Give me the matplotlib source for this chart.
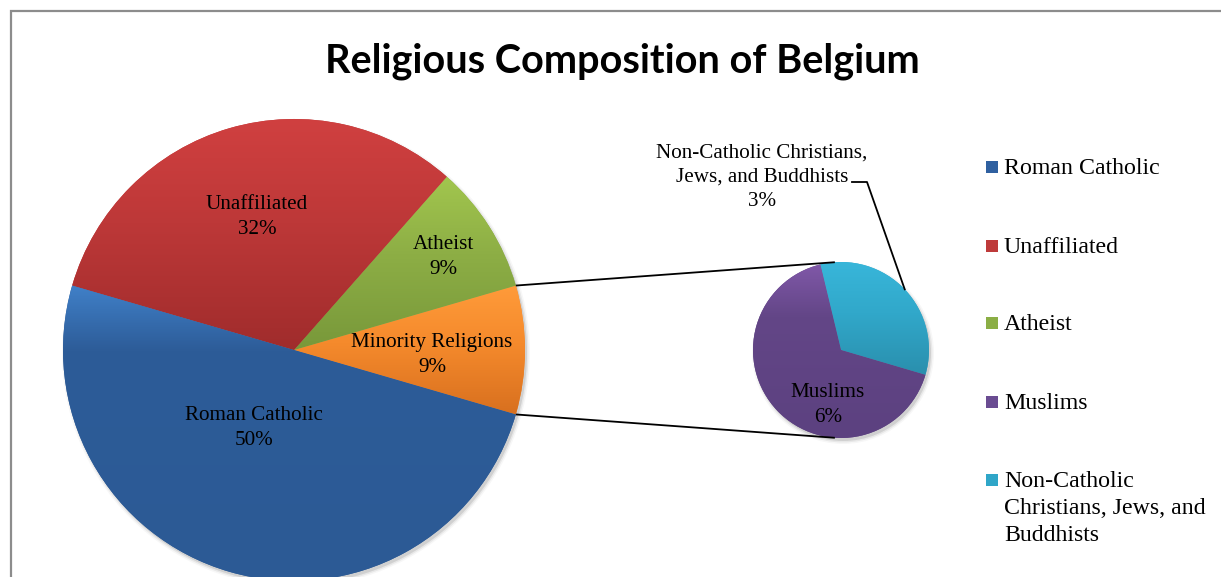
import numpy as np
import matplotlib
matplotlib.use('Agg')
import matplotlib.pyplot as plt
from matplotlib.colors import LinearSegmentedColormap
from matplotlib.patches import Rectangle, Circle

W, H = 1221, 577

title = 'Religious Composition of Belgium'

# main pie, counter-clockwise from the lower edge of the split-off slice
main_labels = ['Minority Religions', 'Atheist', 'Unaffiliated', 'Roman Catholic']
main_values = [9, 9, 32, 50]
# (top, middle, bottom) shades of each slice, middle stop position
main_colors = [('#FF9B3A', '#F58A2C', '#D8701F', 0.55),
               ('#A2C64E', '#8DAE45', '#78983A', 0.55),
               ('#D04040', '#BD3838', '#A02C2C', 0.55),
               ('#4080C8', '#2D5C98', '#2C5A95', 0.78)]

# secondary pie (breakdown of minority religions)
sub_labels = ['Non-Catholic Christians, Jews, and Buddhists', 'Muslims']
sub_values = [3, 6]
sub_colors = [('#38B6DA', '#31A8CA', '#2A8FAD', 0.55),
              ('#8058A8', '#634687', '#5C4180', 0.7)]

legend_labels = ['Roman Catholic', 'Unaffiliated', 'Atheist', 'Muslims',
                 'Non-Catholic\nChristians, Jews, and\nBuddhists']
legend_colors = ['#2F60A0', '#BE3A3A', '#8BAE45', '#6A4C92', '#2FA6C8']

# layout (pixels, y measured from top)
main_c, main_r = (294, 350), 231
sub_c, sub_r = (841, 350), 88
sub_mid_angle = 43.6
label_pos = {'Unaffiliated': (257, 217), 'Atheist': (443, 257),
             'Minority Religions': (432, 355), 'Roman Catholic': (254, 428),
             'Muslims': (828, 405)}
legend_rows = [167, 246, 323, 402, 480]

serif = 'Liberation Serif'


def yy(y):
    return H - y


def gradient_fill(ax, wedges, colors):
    for w, cols in zip(wedges, colors):
        bb = w.get_path().get_extents()
        cmap = LinearSegmentedColormap.from_list(
            'g', [(0, cols[2]), (cols[3], cols[1]), (1, cols[0])])
        grad = np.linspace(0, 1, 256).reshape(-1, 1)
        im = ax.imshow(grad, extent=[bb.x0, bb.x1, bb.y0, bb.y1], origin='lower',
                       cmap=cmap, aspect='auto', zorder=2, interpolation='bilinear')
        im.set_clip_path(w)


fig = plt.figure(figsize=(W / 100, H / 100), dpi=100)
ax = fig.add_axes([0, 0, 1, 1])

# chart frame
ax.add_patch(Rectangle((11, -50), W + 50, yy(11) + 50, fill=False,
                       edgecolor='#8C8C8C', lw=1.6, zorder=0))

# soft shadows
for k, a in [(0, 0.10), (1.5, 0.06), (3, 0.03)]:
    for c, r in [(main_c, main_r), (sub_c, sub_r)]:
        ax.add_patch(Circle((c[0] + 2, yy(c[1]) - 3), r + k, color='black',
                            alpha=a, lw=0, zorder=1))

ang = 360 * main_values[0] / sum(main_values) / 2
wm, _ = ax.pie(main_values, center=(main_c[0], yy(main_c[1])), radius=main_r,
               startangle=-ang, counterclock=True,
               colors=[c[1] for c in main_colors],
               wedgeprops=dict(lw=0, zorder=1.5))
gradient_fill(ax, wm, main_colors)

ang2 = 360 * sub_values[0] / sum(sub_values) / 2
ws, _ = ax.pie(sub_values, center=(sub_c[0], yy(sub_c[1])), radius=sub_r,
               startangle=sub_mid_angle - ang2, counterclock=True,
               colors=[c[1] for c in sub_colors],
               wedgeprops=dict(lw=0, zorder=1.5))
gradient_fill(ax, ws, sub_colors)

# connector lines from split slice to secondary pie
t1, t2 = np.radians(wm[0].theta1), np.radians(wm[0].theta2)
cx, cy = main_c[0], yy(main_c[1])
sx, sy = sub_c[0], yy(sub_c[1])
for t, s in [(t2, 94), (t1, 266)]:
    ax.plot([cx + main_r * np.cos(t), sx + sub_r * np.cos(np.radians(s))],
            [cy + main_r * np.sin(t), sy + sub_r * np.sin(np.radians(s))],
            color='black', lw=1.3, zorder=3, solid_capstyle='butt')

# data labels
pct = dict(zip(main_labels, main_values))
pct.update(zip(sub_labels, sub_values))
for name, (px, py) in label_pos.items():
    ax.text(px, yy(py), '%s\n%d%%' % (name, pct[name]), ha='center', va='center',
            fontsize=15.2, family=serif, linespacing=1.42, zorder=4)

# outside label with leader line
ax.text(762, yy(177), 'Non-Catholic Christians,\nJews, and Buddhists\n%d%%' % sub_values[0],
        ha='center', va='center', fontsize=15.2, family=serif, linespacing=1.36, zorder=4)
tm = np.radians((ws[0].theta1 + ws[0].theta2) / 2)
ax.plot([852, 867, sx + sub_r * np.cos(tm)], [yy(182), yy(182), sy + sub_r * np.sin(tm)],
        color='black', lw=1.3, zorder=3)

# legend
for lab, col, ry in zip(legend_labels, legend_colors, legend_rows):
    ax.scatter([992], [yy(ry)], marker='s', s=80, color=col, lw=0, zorder=4)
    ax.text(1004, yy(ry - 9), lab, ha='left', va='top', fontsize=17.2,
            family=serif, linespacing=1.36, zorder=4)

ax.text(622, yy(72), title, ha='center', va='baseline', fontsize=28.5,
        fontweight='bold', family='Lato')

ax.set_xlim(0, W)
ax.set_ylim(0, H)
ax.set_aspect('auto')
ax.axis('off')
fig.savefig('out.png', dpi=100)
